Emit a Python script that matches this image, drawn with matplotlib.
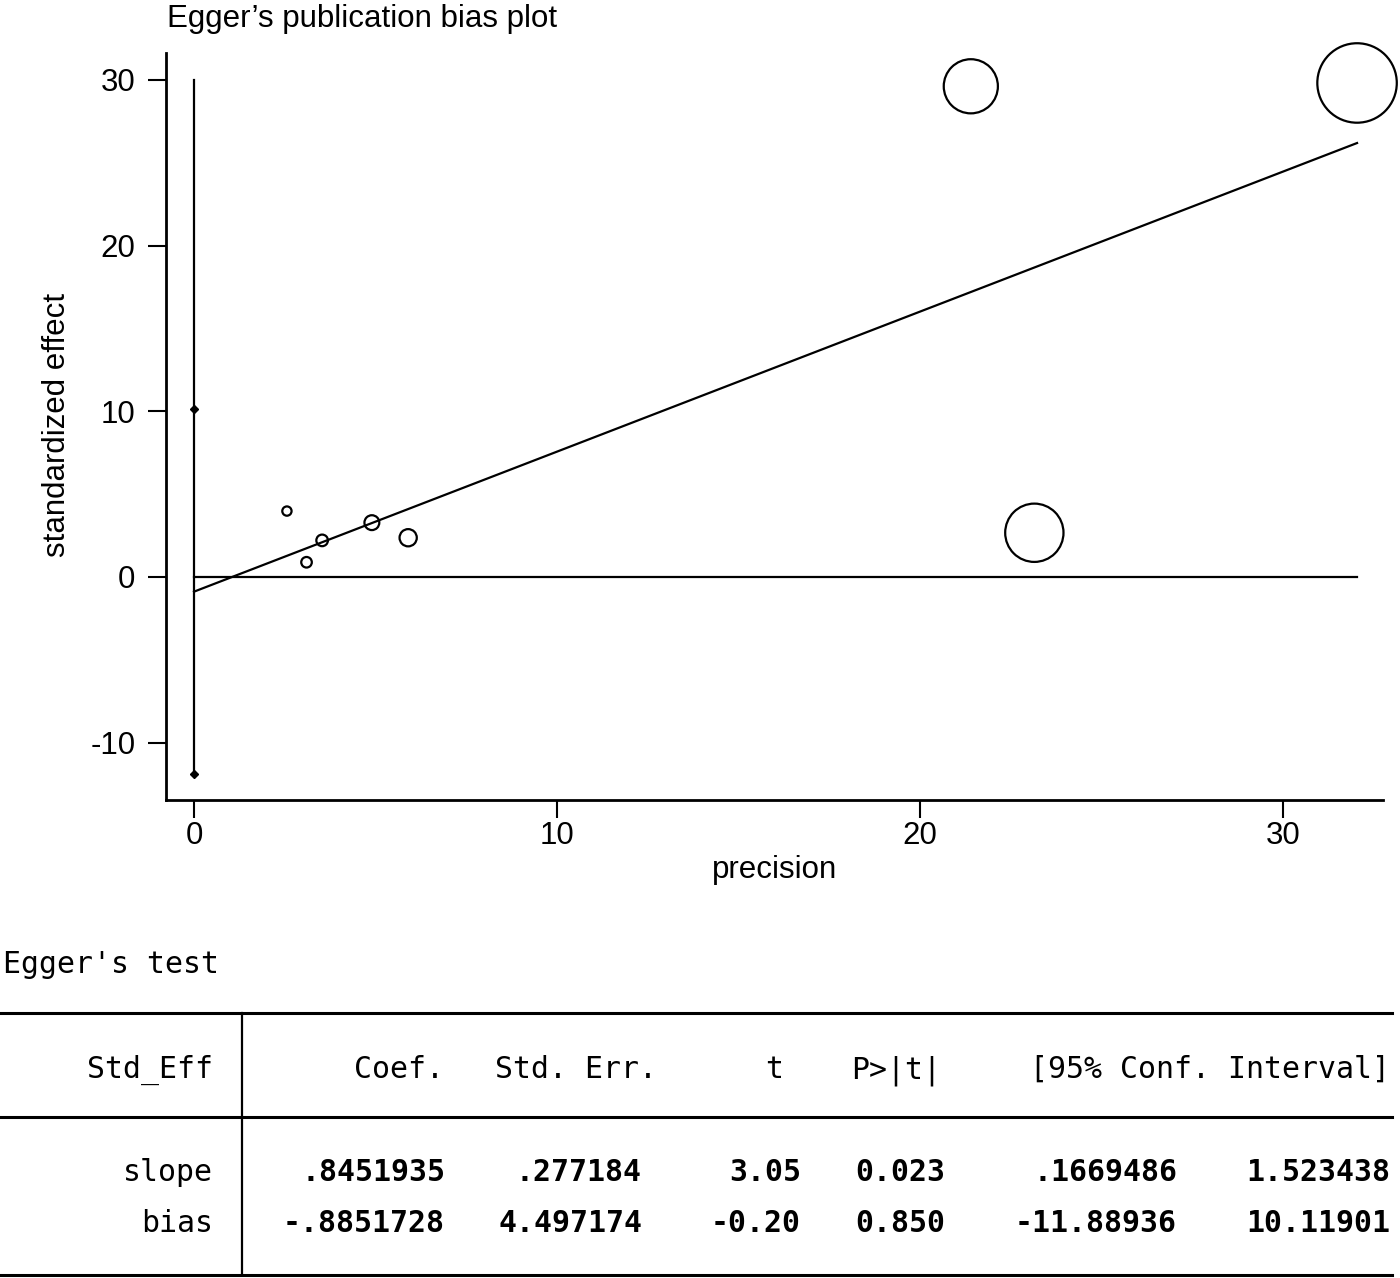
import matplotlib
matplotlib.use("Agg")
import matplotlib.pyplot as plt
import numpy as np

plt.rcParams["axes.unicode_minus"] = False

# ---------------- data ----------------
precision = [2.56, 3.10, 3.53, 4.90, 5.90, 21.40, 23.15, 32.04]
std_effect = [3.98, 0.89, 2.21, 3.28, 2.37, 29.62, 2.67, 29.82]

slope = 0.8451935
bias = -0.8851728
bias_ci = [-11.88936, 10.11901]
vline_top = 30

xticks = [0, 10, 20, 30]
yticks = [-10, 0, 10, 20, 30]

title = "Egger\u2019s publication bias plot"
xlabel = "precision"
ylabel = "standardized effect"

table_title = "Egger's test"
header = ["Std_Eff", "Coef.", "Std. Err.", "t", "P>|t|", "[95% Conf. Interval]"]
row_labels = ["slope", "bias"]
row_values = [
    [".8451935", ".277184", "3.05", "0.023", ".1669486", "1.523438"],
    ["-.8851728", "4.497174", "-0.20", "0.850", "-11.88936", "10.11901"],
]

# ---------------- figure ----------------
W, H = 1400, 1278
fig = plt.figure(figsize=(W / 100, H / 100), dpi=100)
sans = ["Liberation Sans", "DejaVu Sans"]
mono = ["DejaVu Sans Mono"]

ax = fig.add_axes([166 / W, 1 - 800 / H, (1383 - 166) / W, (800 - 53) / H])
px_x = 36.3
px_y = 16.567
ax.set_xlim((166 - 194) / px_x, (1383 - 194) / px_x)
ax.set_ylim(-(800 - 577) / px_y, (577 - 53) / px_y)

lw = 1.6
pmax = max(precision)
# vertical line (intercept CI) with diamond markers
ax.plot([0, 0], [bias_ci[0], vline_top], color="black", lw=lw, zorder=2)
ax.plot([0, 0], bias_ci, ls="none", marker="D", ms=4.5, color="black", zorder=3)
# zero line
ax.plot([0, pmax], [0, 0], color="black", lw=lw, zorder=2)
# regression line
xs = np.array([0, pmax])
ax.plot(xs, bias + slope * xs, color="black", lw=lw, zorder=2)
# study circles, size by precision
p = np.array(precision)
sizes = (2.3 + 1.714 * p) ** 2
ax.scatter(precision, std_effect, s=sizes, facecolors="none",
           edgecolors="black", linewidths=lw, zorder=4, clip_on=False)

for s in ["top", "right"]:
    ax.spines[s].set_visible(False)
for s in ["left", "bottom"]:
    ax.spines[s].set_linewidth(2.0)

ax.set_xticks(xticks)
ax.set_yticks(yticks)
ax.tick_params(axis="both", direction="out", length=13, width=1.5,
               labelsize=22.5)
ax.tick_params(axis="x", pad=2)
ax.tick_params(axis="y", pad=9)
for lab in ax.get_xticklabels() + ax.get_yticklabels():
    lab.set_family(sans)

ax.set_xlabel(xlabel, fontsize=22.5, family=sans, labelpad=3)
ax.set_ylabel(ylabel, fontsize=22.5, family=sans)
ax.yaxis.set_label_coords((72 - 166) / (1383 - 166), (800 - 425) / (800 - 53))

fig.text(167 / W, 1 - 27 / H, title, fontsize=22.5, family=sans,
         ha="left", va="baseline")

# ---------------- table ----------------
ov = fig.add_axes([0, 0, 1, 1], zorder=-1)
ov.set_xlim(0, W)
ov.set_ylim(H, 0)
ov.axis("off")

ov.plot([0, 1392], [1013, 1013], color="black", lw=2.2)
ov.plot([0, 1392], [1117, 1117], color="black", lw=2.2)
ov.plot([0, 1392], [1275, 1275], color="black", lw=2.2)
ov.plot([242, 242], [1013, 1275], color="black", lw=1.6)

fs_m = 21.5
ov.text(3, 973, table_title, fontsize=fs_m, family=mono, ha="left", va="baseline")

header_x = [213, 444, 657, 783, 941, 1390]
for txt, x in zip(header, header_x):
    ov.text(x, 1078, txt, fontsize=fs_m, family=mono, ha="right", va="baseline")

value_x = [445, 642, 801, 945, 1177, 1390]
row_y = [1181, 1232]
for lab, vals, y in zip(row_labels, row_values, row_y):
    ov.text(213, y, lab, fontsize=fs_m, family=mono, ha="right", va="baseline")
    for v, x in zip(vals, value_x):
        ov.text(x, y, v, fontsize=fs_m, family=mono, fontweight="bold",
                ha="right", va="baseline")

fig.savefig("out.png", dpi=100)
